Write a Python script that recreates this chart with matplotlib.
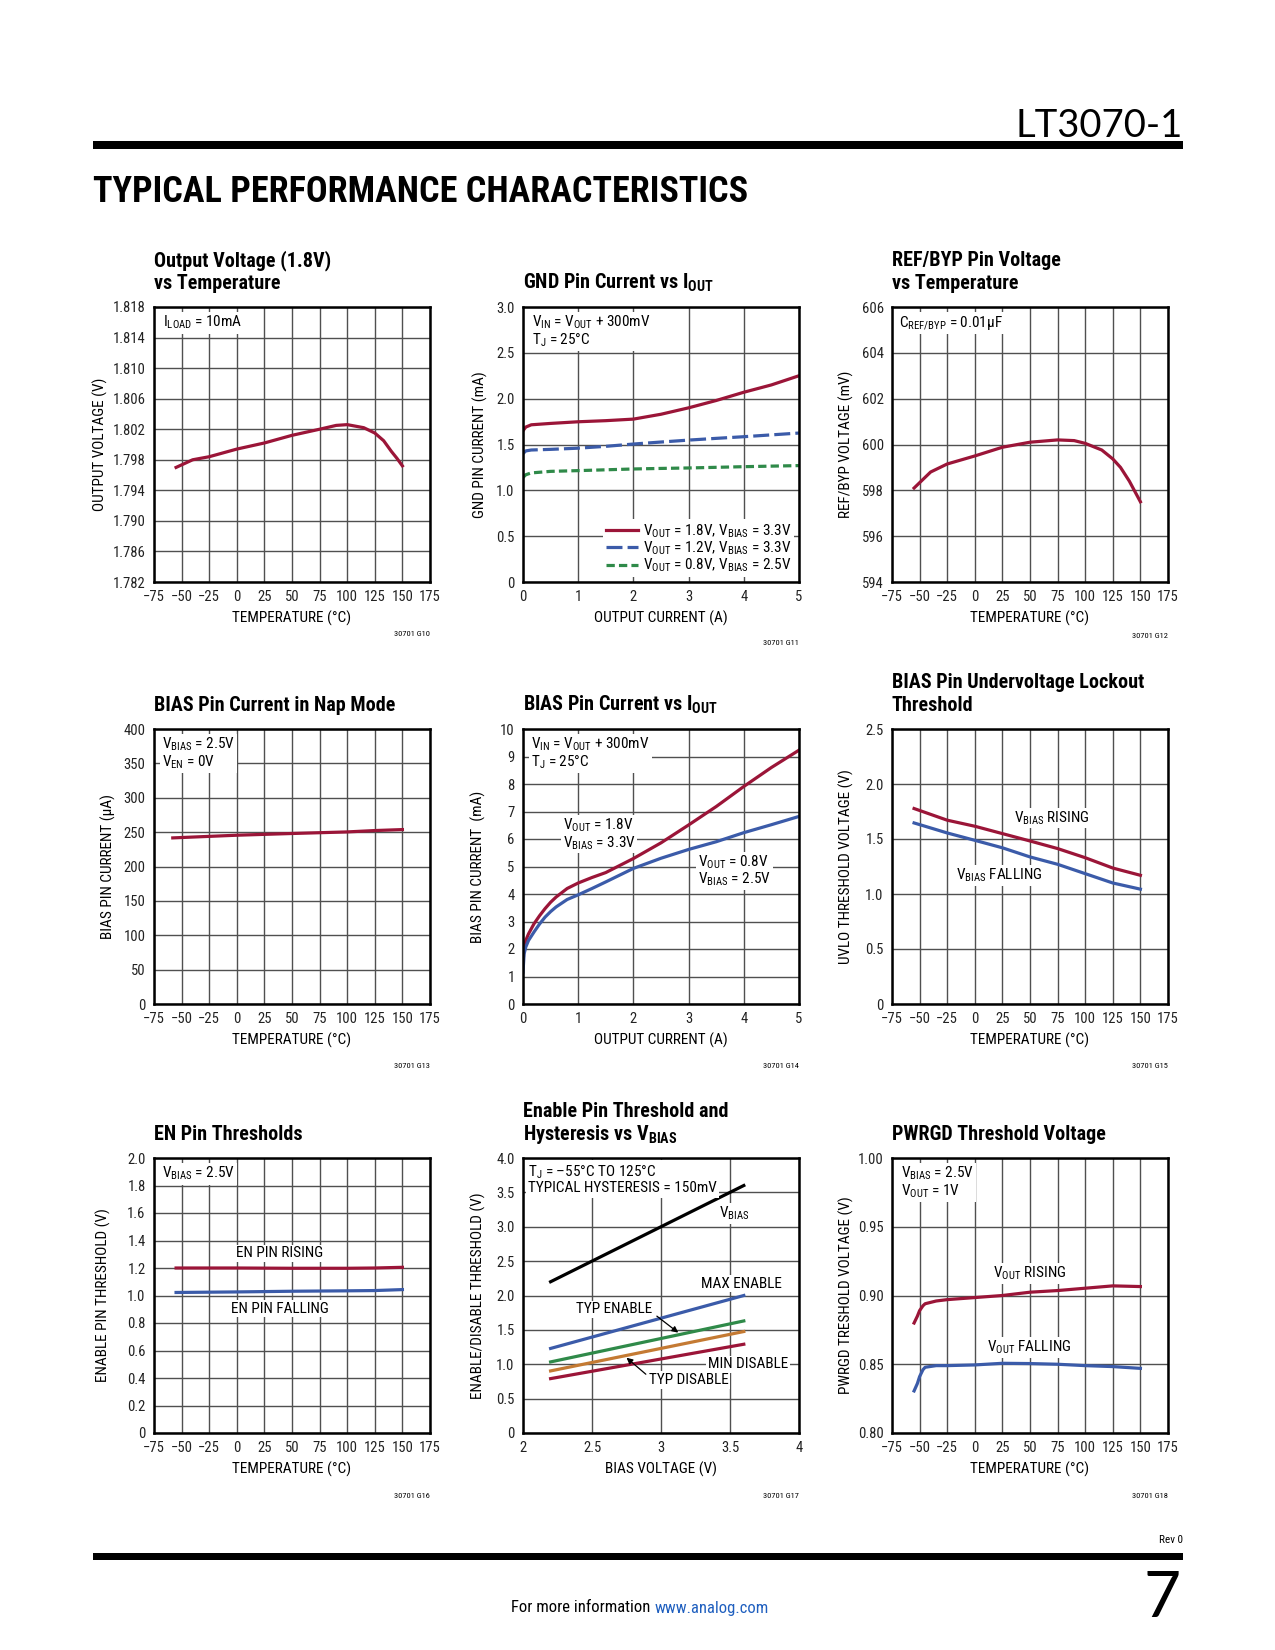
import numpy as np
import matplotlib
matplotlib.use("Agg")
import matplotlib.pyplot as plt
from matplotlib import font_manager
from matplotlib.patches import Rectangle

# ---------------- data ----------------
# Output Voltage (1.8V) vs Temperature
vout_temp = [-55, -40, -25, 0, 25, 50, 75, 90, 100, 115, 125, 133, 140, 145, 150]
vout_v = [1.7970, 1.7980, 1.7984, 1.7994, 1.8002, 1.8012, 1.8020, 1.8025, 1.8026, 1.8022,
          1.8015, 1.8005, 1.7991, 1.7982, 1.7972]

# GND Pin Current vs IOUT
gnd_iout = [0, 0.05, 0.15, 0.5, 1, 1.5, 2, 2.5, 3, 3.5, 4, 4.5, 5]
gnd_18 = [1.65, 1.69, 1.715, 1.73, 1.748, 1.76, 1.777, 1.83, 1.90, 1.98, 2.07, 2.15, 2.25]
gnd_12 = [1.40, 1.43, 1.44, 1.447, 1.46, 1.48, 1.505, 1.527, 1.548, 1.567, 1.585, 1.605, 1.625]
gnd_08 = [1.14, 1.17, 1.19, 1.207, 1.215, 1.224, 1.233, 1.239, 1.244, 1.251, 1.258, 1.264, 1.27]

# REF/BYP Pin Voltage vs Temperature
ref_temp = [-55, -40, -25, 0, 25, 50, 75, 90, 100, 115, 125, 132, 140, 145, 150]
ref_mv = [598.1, 598.8, 599.15, 599.5, 599.88, 600.1, 600.2, 600.17, 600.05, 599.76, 599.37,
          599.0, 598.4, 597.95, 597.5]

# BIAS Pin Current in Nap Mode
nap_temp = [-58, 0, 50, 100, 125, 150]
nap_ua = [241.6, 245.5, 248.0, 250.3, 252.3, 253.7]

# BIAS Pin Current vs IOUT
bias_iout = [0, 0.02, 0.05, 0.1, 0.2, 0.3, 0.4, 0.5, 0.6, 0.8, 1, 1.25, 1.5, 2, 2.5, 3, 3.5, 4, 4.5, 5]
bias_18 = [1.46, 2.07, 2.31, 2.55, 2.92, 3.21, 3.47, 3.70, 3.89, 4.20, 4.40, 4.60, 4.78, 5.29,
           5.86, 6.51, 7.18, 7.91, 8.60, 9.23]
bias_08 = [1.16, 1.82, 2.07, 2.31, 2.62, 2.91, 3.16, 3.36, 3.53, 3.80, 3.97, 4.20, 4.44, 4.93,
           5.30, 5.62, 5.90, 6.23, 6.52, 6.82]

# BIAS Pin Undervoltage Lockout Threshold
uvlo_temp = [-55, -25, 0, 25, 50, 75, 100, 125, 150]
uvlo_rise = [1.777, 1.671, 1.616, 1.549, 1.482, 1.413, 1.330, 1.236, 1.170]
uvlo_fall = [1.646, 1.555, 1.488, 1.420, 1.337, 1.270, 1.185, 1.100, 1.044]

# EN Pin Thresholds
en_temp = [-55, 0, 50, 100, 125, 150]
en_rise = [1.200, 1.200, 1.198, 1.198, 1.200, 1.205]
en_fall = [1.022, 1.026, 1.031, 1.034, 1.036, 1.043]

# Enable Pin Threshold and Hysteresis vs VBIAS
hyst_vbias = [2.2, 3.6]
hyst_bias_line = [2.2, 3.6]
hyst_max_en = [1.23, 2.0]
hyst_typ_en = [1.034, 1.63]
hyst_typ_dis = [0.903, 1.476]
hyst_min_dis = [0.791, 1.291]

# PWRGD Threshold Voltage
pg_temp = [-55, -52, -50, -47, -45, -35, -25, 0, 25, 50, 75, 100, 125, 150]
pg_rise = [0.880, 0.885, 0.889, 0.8925, 0.894, 0.896, 0.897, 0.8985, 0.900, 0.9024, 0.9036,
           0.9053, 0.907, 0.9065]
pg_fall = [0.8306, 0.836, 0.841, 0.846, 0.8478, 0.849, 0.849, 0.8495, 0.8507, 0.8505, 0.850,
           0.849, 0.8483, 0.847]

temp_ticks = list(range(-75, 176, 25))

# ---------------- fonts / style ----------------
fm = font_manager.fontManager
names = {f.name for f in fm.ttflist}
COND, STRETCH, SC = None, "normal", 1.0
for cand in ["Liberation Sans Narrow", "Roboto Condensed", "Open Sans Condensed",
             "Noto Sans Condensed", "DejaVu Sans Condensed"]:
    if cand in names:
        COND = cand
        break
if COND is None:
    for f in fm.ttflist:
        if f.name in ("Roboto", "Noto Sans", "Open Sans", "DejaVu Sans") and \
                str(f.stretch) in ("condensed", "semi-condensed", "extra-condensed"):
            COND, STRETCH = f.name, "condensed"
            break
if COND is None:
    COND, SC = "Liberation Sans", 0.9

LIGHT = "Lato" if "Lato" in names else "DejaVu Sans"
plt.rcParams["font.family"] = [COND, "DejaVu Sans"]
plt.rcParams["font.stretch"] = STRETCH
plt.rcParams["mathtext.fontset"] = "custom"
plt.rcParams["mathtext.rm"] = COND
plt.rcParams["mathtext.it"] = COND
plt.rcParams["mathtext.bf"] = COND + ":bold"
plt.rcParams["mathtext.default"] = "regular"

RED = "#9b1538"
BLUE = "#3b5ba9"
GREEN = "#2f8a49"
ORANGE = "#c47a33"
GRID = "#505050"

W, H = 1275, 1650
fig = plt.figure(figsize=(W / 100, H / 100), dpi=100)

COLS = [154, 523, 892]
ROWS = [307, 729, 1158]
AW, AH = 276, 275

FS_TICK = 10.5 * SC
FS_LAB = 11 * SC
FS_NOTE = 11 * SC
FS_TITLE = 14.5 * SC


def fx(x):
    return x / W


def fy(y):
    return 1 - y / H


def make_axes(col, row):
    l, t = COLS[col], ROWS[row]
    return fig.add_axes([fx(l), fy(t + AH), AW / W, AH / H])


def style(ax, xlim, xticks, xlabels, ylim, yticks, ylabels, xlabel, ylabel, ylab_off, code, code_off):
    ax.set_xlim(*xlim)
    ax.set_ylim(*ylim)
    ax.set_xticks(xticks)
    ax.set_xticklabels(xlabels)
    ax.set_yticks(yticks)
    ax.set_yticklabels(ylabels)
    ax.grid(True, color=GRID, lw=1.0)
    ax.set_axisbelow(True)
    for s in ax.spines.values():
        s.set_linewidth(1.8)
        s.set_color("black")
    ax.tick_params(length=0, pad=6, labelsize=FS_TICK, colors="#222222")
    ax.set_xlabel(xlabel, fontsize=FS_LAB)
    ax.set_ylabel(ylabel, fontsize=FS_LAB)
    ax.xaxis.set_label_coords(0.5, -29 / AH)
    ax.yaxis.set_label_coords(-ylab_off / AW, 0.5)
    ax.text(1.0, -code_off / AH, code, transform=ax.transAxes, ha="right", va="center", fontsize=6)


def note(ax, txt, dx=9, dy=7, **kw):
    ax.text(dx / AW, 1 - dy / AH, txt, transform=ax.transAxes, ha="left", va="top",
            fontsize=FS_NOTE, linespacing=1.0,
            bbox=dict(facecolor="white", edgecolor="none", pad=1.5), **kw)


def label(ax, x, y, txt, ha="center", **kw):
    ax.text(x, y, txt, ha=ha, va="center", fontsize=FS_NOTE, multialignment="left",
            linespacing=1.0, bbox=dict(facecolor="white", edgecolor="none", pad=1.2),
            zorder=4, **kw)


def title(col, row, lines):
    base = ROWS[row] - 18
    for i, ln in enumerate(reversed(lines)):
        fig.text(fx(COLS[col]), fy(base - i * 23), ln, ha="left", va="baseline",
                 fontsize=FS_TITLE, fontweight="bold")


LW = 2.3
tl = [f"\u2212{abs(t)}" if t < 0 else str(t) for t in temp_ticks]

# ---- row 1 ----
ax = make_axes(0, 0)
ax.plot(vout_temp, vout_v, color=RED, lw=LW)
yt = np.arange(1.782, 1.8181, 0.004)
style(ax, (-75, 175), temp_ticks, tl, (1.782, 1.818), yt, [f"{v:.3f}" for v in yt],
      "TEMPERATURE (\u00b0C)", "OUTPUT VOLTAGE (V)", 46, "30701 G10", 52)
note(ax, "$I_{LOAD}$ = 10mA")
title(0, 0, ["Output Voltage (1.8V)", "vs Temperature"])

ax = make_axes(1, 0)
ax.plot(gnd_iout, gnd_18, color=RED, lw=LW, label="$V_{OUT}$ = 1.8V, $V_{BIAS}$ = 3.3V")
ax.plot(gnd_iout, gnd_12, color=BLUE, lw=LW, dashes=(5, 1.6), label="$V_{OUT}$ = 1.2V, $V_{BIAS}$ = 3.3V")
ax.plot(gnd_iout, gnd_08, color=GREEN, lw=LW, dashes=(2.6, 1.3), label="$V_{OUT}$ = 0.8V, $V_{BIAS}$ = 2.5V")
yt = np.arange(0, 3.01, 0.5)
style(ax, (0, 5), range(6), [str(i) for i in range(6)], (0, 3), yt,
      ["0"] + [f"{v:.1f}" for v in yt[1:]], "OUTPUT CURRENT (A)", "GND PIN CURRENT (mA)", 35, "30701 G11", 61)
note(ax, "$V_{IN}$ = $V_{OUT}$ + 300mV\n$T_J$ = 25\u00b0C")
ax.legend(loc="lower right", fontsize=FS_NOTE, handlelength=2.1, handletextpad=0.3,
          labelspacing=0.0, borderpad=0.2, borderaxespad=0.3, frameon=True,
          facecolor="white", edgecolor="none", framealpha=1.0)
title(1, 0, ["GND Pin Current vs $I_{OUT}$"])

ax = make_axes(2, 0)
ax.plot(ref_temp, ref_mv, color=RED, lw=LW)
yt = list(range(594, 607, 2))
style(ax, (-75, 175), temp_ticks, tl, (594, 606), yt, [str(v) for v in yt],
      "TEMPERATURE (\u00b0C)", "REF/BYP VOLTAGE (mV)", 38, "30701 G12", 54)
note(ax, "$C_{REF/BYP}$ = 0.01\u00b5F", dx=7)
title(2, 0, ["REF/BYP Pin Voltage", "vs Temperature"])

# ---- row 2 ----
ax = make_axes(0, 1)
ax.plot(nap_temp, nap_ua, color=RED, lw=LW)
yt = list(range(0, 401, 50))
style(ax, (-75, 175), temp_ticks, tl, (0, 400), yt, [str(v) for v in yt],
      "TEMPERATURE (\u00b0C)", "BIAS PIN CURRENT (\u00b5A)", 38, "30701 G13", 62)
note(ax, "$V_{BIAS}$ = 2.5V\n$V_{EN}$ = 0V", dx=8)
title(0, 1, ["BIAS Pin Current in Nap Mode"])

ax = make_axes(1, 1)
ax.plot(bias_iout, bias_18, color=RED, lw=LW)
ax.plot(bias_iout, bias_08, color=BLUE, lw=LW)
yt = list(range(0, 11))
style(ax, (0, 5), range(6), [str(i) for i in range(6)], (0, 10), yt, [str(v) for v in yt],
      "OUTPUT CURRENT (A)", "BIAS PIN CURRENT  (mA)", 37, "30701 G14", 62)
note(ax, "$V_{IN}$ = $V_{OUT}$ + 300mV\n$T_J$ = 25\u00b0C", dx=8)
label(ax, 1.38, 6.17, "$V_{OUT}$ = 1.8V\n$V_{BIAS}$ = 3.3V")
label(ax, 3.17, 4.85, "$V_{OUT}$ = 0.8V\n$V_{BIAS}$ = 2.5V", ha="left")
title(1, 1, ["BIAS Pin Current vs $I_{OUT}$"])

ax = make_axes(2, 1)
ax.plot(uvlo_temp, uvlo_rise, color=RED, lw=LW)
ax.plot(uvlo_temp, uvlo_fall, color=BLUE, lw=LW)
yt = np.arange(0, 2.51, 0.5)
style(ax, (-75, 175), temp_ticks, tl, (0, 2.5), yt, ["0"] + [f"{v:.1f}" for v in yt[1:]],
      "TEMPERATURE (\u00b0C)", "UVLO THRESHOLD VOLTAGE (V)", 38, "30701 G15", 62)
label(ax, 70, 1.69, "$V_{BIAS}$ RISING")
label(ax, 22, 1.17, "$V_{BIAS}$ FALLING")
title(2, 1, ["BIAS Pin Undervoltage Lockout", "Threshold"])

# ---- row 3 ----
ax = make_axes(0, 2)
ax.plot(en_temp, en_rise, color=RED, lw=LW)
ax.plot(en_temp, en_fall, color=BLUE, lw=LW)
yt = np.arange(0, 2.01, 0.2)
style(ax, (-75, 175), temp_ticks, tl, (0, 2.0), yt, ["0"] + [f"{v:.1f}" for v in yt[1:]],
      "TEMPERATURE (\u00b0C)", "ENABLE PIN THRESHOLD (V)", 43, "30701 G16", 63)
note(ax, "$V_{BIAS}$ = 2.5V", dx=8)
label(ax, 38.6, 1.307, "EN PIN RISING")
label(ax, 38.6, 0.905, "EN PIN FALLING")
title(0, 2, ["EN Pin Thresholds"])

ax = make_axes(1, 2)
ax.plot(hyst_vbias, hyst_bias_line, color="black", lw=LW)
ax.plot(hyst_vbias, hyst_max_en, color=BLUE, lw=LW)
ax.plot(hyst_vbias, hyst_typ_en, color=GREEN, lw=LW)
ax.plot(hyst_vbias, hyst_typ_dis, color=ORANGE, lw=LW)
ax.plot(hyst_vbias, hyst_min_dis, color=RED, lw=LW)
yt = np.arange(0, 4.01, 0.5)
style(ax, (2, 4), [2, 2.5, 3, 3.5, 4], ["2", "2.5", "3", "3.5", "4"], (0, 4), yt,
      ["0"] + [f"{v:.1f}" for v in yt[1:]], "BIAS VOLTAGE (V)", "ENABLE/DISABLE THRESHOLD (V)", 37,
      "30701 G17", 63)
note(ax, "$T_J$ = \u201355\u00b0C TO 125\u00b0C\nTYPICAL HYSTERESIS = 150mV", dx=5, dy=6)
label(ax, 3.42, 3.19, "$V_{BIAS}$", ha="left")
label(ax, 3.29, 2.17, "MAX ENABLE", ha="left")
label(ax, 2.94, 1.80, "TYP ENABLE", ha="right")
label(ax, 2.91, 0.77, "TYP DISABLE", ha="left")
label(ax, 3.34, 1.0, "MIN DISABLE", ha="left")
arrow = dict(arrowstyle="-|>", color="black", lw=0.9, mutation_scale=9, shrinkA=0, shrinkB=0)
ax.annotate("", xy=(3.125, 1.46), xytext=(2.97, 1.70), arrowprops=arrow, zorder=5)
ax.annotate("", xy=(2.75, 1.095), xytext=(2.89, 0.855), arrowprops=arrow, zorder=5)
title(1, 2, ["Enable Pin Threshold and", "Hysteresis vs $V_{BIAS}$"])

ax = make_axes(2, 2)
ax.plot(pg_temp, pg_rise, color=RED, lw=LW)
ax.plot(pg_temp, pg_fall, color=BLUE, lw=LW)
yt = np.arange(0.80, 1.001, 0.05)
style(ax, (-75, 175), temp_ticks, tl, (0.80, 1.00), yt, [f"{v:.2f}" for v in yt],
      "TEMPERATURE (\u00b0C)", "PWRGD TRESHOLD VOLTAGE (V)", 38, "30701 G18", 63)
note(ax, "$V_{BIAS}$ = 2.5V\n$V_{OUT}$ = 1V")
label(ax, 49.5, 0.916, "$V_{OUT}$ RISING")
label(ax, 49.5, 0.862, "$V_{OUT}$ FALLING")
title(2, 2, ["PWRGD Threshold Voltage"])

# ---------------- page header / footer ----------------
fig.text(fx(1183), fy(137), "LT3070-1", ha="right", va="baseline", fontsize=27.5,
         family=[LIGHT, "DejaVu Sans"], fontweight="normal", fontstretch="normal")
fig.add_artist(Rectangle((fx(93), fy(149)), fx(1183 - 93), 8 / H, transform=fig.transFigure,
                         facecolor="black", edgecolor="none"))
fig.text(fx(93), fy(202), "TYPICAL PERFORMANCE CHARACTERISTICS", ha="left", va="baseline",
         fontsize=26 * SC * (0.8 if SC < 1 else 1.0), fontweight="heavy")

fig.text(fx(1183), fy(1540), "Rev 0", ha="right", va="center", fontsize=8)
fig.add_artist(Rectangle((fx(93), fy(1560)), fx(1183 - 93), 7 / H, transform=fig.transFigure,
                         facecolor="black", edgecolor="none"))
fig.text(fx(1181), fy(1617), "7", ha="right", va="baseline", fontsize=46,
         family=[LIGHT, "DejaVu Sans"], fontweight="normal", fontstretch="normal")
fig.text(fx(650), fy(1608), "For more information", ha="right", va="center", fontsize=12 * SC)
fig.text(fx(655), fy(1608), "www.analog.com", ha="left", va="center", fontsize=12 * SC,
         color="#1f5fbf")

fig.savefig("out.png", dpi=100)
